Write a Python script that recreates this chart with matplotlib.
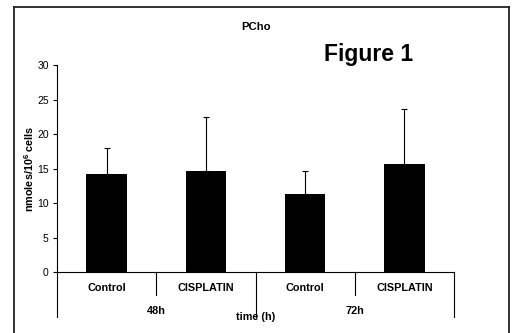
import matplotlib.pyplot as plt
from matplotlib.lines import Line2D

plt.rcParams['font.family'] = ['Liberation Sans', 'DejaVu Sans']
plt.rcParams['mathtext.fontset'] = 'custom'
plt.rcParams['mathtext.bf'] = 'Liberation Sans:bold'
plt.rcParams['mathtext.rm'] = 'Liberation Sans:bold'

treatments = ["Control", "CISPLATIN", "Control", "CISPLATIN"]
times_h = ["48h", "72h"]
means = [14.2, 14.6, 11.3, 15.7]
sd = [3.7, 7.8, 3.4, 7.9]

fig = plt.figure(figsize=(5.12, 3.33), dpi=100)
ax = fig.add_axes([57 / 512, 1 - 272 / 333, 397 / 512, 207 / 333])

x = list(range(len(means)))
ax.bar(x, means, width=0.41, color='black')
ax.errorbar(x, means, yerr=[[0] * len(sd), sd], fmt='none', ecolor='black',
            elinewidth=0.8, capsize=2.2, capthick=0.8)

ax.set_xlim(-0.5, len(means) - 0.5)
ax.set_ylim(0, 30)
ax.set_yticks(range(0, 31, 5))
ax.tick_params(axis='y', direction='out', length=3, width=0.8, labelsize=7.5, pad=3)
ax.set_xticks([])
for s in ['top', 'right']:
    ax.spines[s].set_visible(False)
ax.spines['left'].set_linewidth(0.8)
ax.spines['bottom'].set_linewidth(0.8)

tr = ax.get_xaxis_transform()
# category separators below the axis
for b in [0.5, 2.5]:
    ax.add_line(Line2D([b, b], [0, -0.111], transform=tr, color='black', lw=0.8, clip_on=False))
for b in [-0.5, 1.5, 3.5]:
    ax.add_line(Line2D([b, b], [0, -0.217], transform=tr, color='black', lw=0.8, clip_on=False))

for i, t in enumerate(treatments):
    ax.text(i, -0.077, t, transform=tr, ha='center', va='center', fontsize=7.8, fontweight='bold')
for j, t in enumerate(times_h):
    ax.text(2 * j + 0.5, -0.188, t, transform=tr, ha='center', va='center', fontsize=7.8, fontweight='bold')
ax.text(1.5, -0.217, "time (h)", transform=tr, ha='center', va='center', fontsize=7.8, fontweight='bold')

ax.set_ylabel(r"nmoles/10$^{6}$ cells", fontsize=7.8, fontweight='bold', labelpad=1)

fig.text(256 / 512, 1 - 27 / 333, "PCho", ha='center', va='center', fontsize=8.2, fontweight='bold')
fig.text(369 / 512, 1 - 55 / 333, "Figure 1", ha='center', va='center', fontsize=16.5, fontweight='bold')

# outer frame
fx0, fx1, fy1 = 14 / 512, 509 / 512, 1 - 7 / 333
for xs, ys in [([fx0, fx0], [-0.01, fy1]), ([fx0, fx1], [fy1, fy1]), ([fx1, fx1], [fy1, -0.01])]:
    fig.add_artist(Line2D(xs, ys, transform=fig.transFigure, color='#222222', lw=1.3))

fig.savefig("out.png", dpi=100)
